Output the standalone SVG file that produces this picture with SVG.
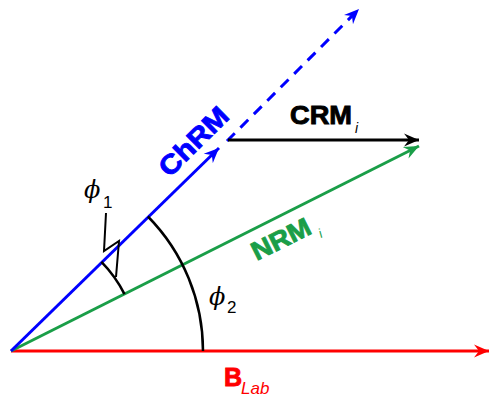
<svg xmlns="http://www.w3.org/2000/svg" width="490" height="398" viewBox="0 0 490 398">
<style>
.vec{fill:none;stroke-width:3;stroke-linecap:butt}
.arc{fill:none;stroke:#000;stroke-width:2.5}
.lbl{font-family:"Liberation Sans",Arial,sans-serif;font-weight:bold;stroke-width:0.9}
.sub{font-family:"Liberation Sans",Arial,sans-serif;font-style:italic}
.phi{font-family:"DejaVu Serif",serif;font-style:italic;fill:#000}
.dig{font-family:"Liberation Sans",Arial,sans-serif;fill:#000}
</style>
<defs>
<marker id="hB" markerWidth="16" markerHeight="14" viewBox="-15 -7 16 14" refX="0" refY="0" orient="auto" markerUnits="userSpaceOnUse"><path d="M0,0 L-15,-6.5 L-10,0 L-15,6.5 Z" fill="#0000ff"/></marker>
<marker id="hK" markerWidth="16" markerHeight="14" viewBox="-15 -7 16 14" refX="0" refY="0" orient="auto" markerUnits="userSpaceOnUse"><path d="M0,0 L-15,-6.5 L-10,0 L-15,6.5 Z" fill="#000"/></marker>
<marker id="hG" markerWidth="16" markerHeight="14" viewBox="-15 -7 16 14" refX="0" refY="0" orient="auto" markerUnits="userSpaceOnUse"><path d="M0,0 L-15,-6.5 L-10,0 L-15,6.5 Z" fill="#1a9e48"/></marker>
<marker id="hR" markerWidth="16" markerHeight="14" viewBox="-15 -7 16 14" refX="0" refY="0" orient="auto" markerUnits="userSpaceOnUse"><path d="M0,0 L-15,-6.5 L-10,0 L-15,6.5 Z" fill="#ff0000"/></marker>
</defs>
<g id="connectors">
<line class="vec" x1="11" y1="351" x2="489" y2="351" stroke="#ff0000" marker-end="url(#hR)"/>
<line class="vec" x1="11" y1="351" x2="419" y2="146" stroke="#1a9e48" marker-end="url(#hG)"/>
<line class="vec" x1="11" y1="351" x2="219" y2="148" stroke="#0000ff" marker-end="url(#hB)"/>
<line class="vec" x1="227" y1="141" x2="359" y2="9" stroke="#0000ff" stroke-dasharray="11,8" marker-end="url(#hB)"/>
<line class="vec" x1="228" y1="140" x2="419" y2="140" stroke="#000" marker-end="url(#hK)"/>
</g>
<g id="angle-phi2">
<path class="arc" d="M147.9,216.5 A192,192 0 0 1 203,351"/>
<text class="phi" x="209" y="305" font-size="24">ϕ</text>
<text class="dig" x="227" y="313" font-size="17">2</text>
</g>
<g id="angle-phi1">
<path class="arc" d="M101.4,261.8 A127,127 0 0 1 124.5,294.1"/>
<polyline fill="none" stroke="#000" stroke-width="2" points="106,213 104,251 119,241 116,277"/>
<text class="phi" x="84" y="198" font-size="24">ϕ</text>
<text class="dig" x="103" y="208" font-size="17">1</text>
</g>
<g id="ChRM">
<text class="lbl" fill="#0000ff" stroke="#0000ff" font-size="27" text-anchor="middle" textLength="86" lengthAdjust="spacingAndGlyphs" transform="translate(200,148) rotate(-44.6)">ChRM</text>
</g>
<g id="CRM">
<text class="lbl" fill="#000" stroke="#000" font-size="26" x="290" y="124" textLength="62" lengthAdjust="spacingAndGlyphs">CRM</text>
<text class="sub" fill="#000" font-size="14" x="355" y="133">i</text>
</g>
<g id="NRM">
<text class="lbl" fill="#1a9e48" stroke="#1a9e48" font-size="26" text-anchor="middle" textLength="63" lengthAdjust="spacingAndGlyphs" transform="translate(285,247) rotate(-26.6)">NRM</text>
<text class="sub" fill="#1a9e48" font-size="13" transform="translate(321,238) rotate(-26.6)">i</text>
</g>
<g id="BLab">
<text class="lbl" fill="#ff0000" stroke="#ff0000" font-size="25" x="224" y="386">B</text>
<text class="sub" fill="#ff0000" font-size="17" x="241" y="394">Lab</text>
</g>
</svg>
